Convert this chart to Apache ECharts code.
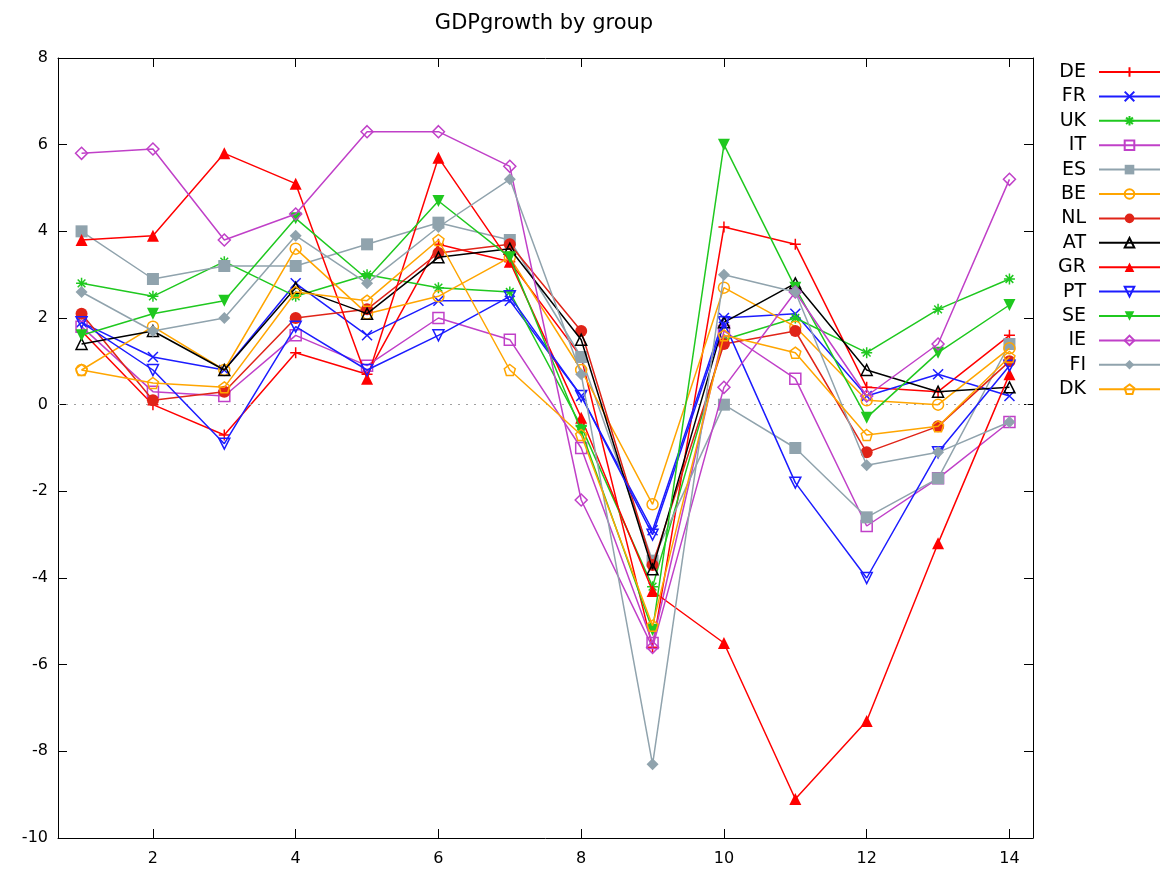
<!DOCTYPE html>
<html>
<head>
<meta charset="utf-8">
<title>GDPgrowth by group</title>
<script src="https://cdn.jsdelivr.net/npm/echarts@6/dist/echarts.min.js"></script>
<style>
  html, body { margin: 0; padding: 0; background: #fff; }
  #chart { width: 1161px; height: 874px; }
</style>
</head>
<body>
<div id="chart"></div>
<script>
// Period index along the x axis
const periods = [1, 2, 3, 4, 5, 6, 7, 8, 9, 10, 11, 12, 13, 14];
const xTickValues = [2, 4, 6, 8, 10, 12, 14];

// GDP growth (%) per country
const DE = [1.7, 0.0, -0.7, 1.2, 0.7, 3.7, 3.3, 1.1, -5.6, 4.1, 3.7, 0.4, 0.3, 1.6];
const FR = [1.9, 1.1, 0.8, 2.8, 1.6, 2.4, 2.4, 0.2, -2.9, 2.0, 2.1, 0.2, 0.7, 0.2];
const UK = [2.8, 2.5, 3.3, 2.5, 3.0, 2.7, 2.6, -0.5, -4.2, 1.5, 2.0, 1.2, 2.2, 2.9];
const IT = [1.8, 0.3, 0.2, 1.6, 0.9, 2.0, 1.5, -1.0, -5.5, 1.7, 0.6, -2.8, -1.7, -0.4];
const ES = [4.0, 2.9, 3.2, 3.2, 3.7, 4.2, 3.8, 1.1, -3.6, 0.0, -1.0, -2.6, -1.7, 1.4];
const BE = [0.8, 1.8, 0.8, 3.6, 2.1, 2.5, 3.4, 0.8, -2.3, 2.7, 1.8, 0.1, 0.0, 1.3];
const NL = [2.1, 0.1, 0.3, 2.0, 2.2, 3.5, 3.7, 1.7, -3.7, 1.4, 1.7, -1.1, -0.5, 1.0];
const AT = [1.4, 1.7, 0.8, 2.7, 2.1, 3.4, 3.6, 1.5, -3.8, 1.9, 2.8, 0.8, 0.3, 0.4];
const GR = [3.8, 3.9, 5.8, 5.1, 0.6, 5.7, 3.3, -0.3, -4.3, -5.5, -9.1, -7.3, -3.2, 0.7];
const PT = [1.9, 0.8, -0.9, 1.8, 0.8, 1.6, 2.5, 0.2, -3.0, 1.9, -1.8, -4.0, -1.1, 0.9];
const SE = [1.6, 2.1, 2.4, 4.3, 2.9, 4.7, 3.4, -0.6, -5.2, 6.0, 2.7, -0.3, 1.2, 2.3];
const IE = [5.8, 5.9, 3.8, 4.4, 6.3, 6.3, 5.5, -2.2, -5.6, 0.4, 2.6, 0.2, 1.4, 5.2];
const FI = [2.6, 1.7, 2.0, 3.9, 2.8, 4.1, 5.2, 0.7, -8.3, 3.0, 2.6, -1.4, -1.1, -0.4];
const DK = [0.8, 0.5, 0.4, 2.6, 2.4, 3.8, 0.8, -0.7, -5.1, 1.6, 1.2, -0.7, -0.5, 1.1];

// Marker shapes
const SYM = {
  plus: 'path://M5,0 L5,10 M0,5 L10,5',
  cross: 'path://M0,0 L10,10 M10,0 L0,10',
  star: 'path://M5,0 L5,10 M0,5 L10,5 M1.5,1.5 L8.5,8.5 M8.5,1.5 L1.5,8.5',
  square: 'rect',
  circle: 'circle',
  triUp: 'triangle',
  triDown: 'path://M0,0 L10,0 L5,8.66 Z',
  diamond: 'diamond',
  pentagon: 'path://M5,0 L10,3.8 L8.1,10 L1.9,10 L0,3.8 Z'
};

const seriesDefs = [
  { name: 'DE', data: DE, color: '#ff0000', symbol: SYM.plus, filled: false, size: 11 },
  { name: 'FR', data: FR, color: '#1c1cff', symbol: SYM.cross, filled: false, size: 10 },
  { name: 'UK', data: UK, color: '#1fc81f', symbol: SYM.star, filled: false, size: 11 },
  { name: 'IT', data: IT, color: '#c040c8', symbol: SYM.square, filled: false, size: 11 },
  { name: 'ES', data: ES, color: '#90a3ad', symbol: SYM.square, filled: true, size: 12 },
  { name: 'BE', data: BE, color: '#ffa500', symbol: SYM.circle, filled: false, size: 11 },
  { name: 'NL', data: NL, color: '#e02418', symbol: SYM.circle, filled: true, size: 12 },
  { name: 'AT', data: AT, color: '#000000', symbol: SYM.triUp, filled: false, size: 11 },
  { name: 'GR', data: GR, color: '#ff0000', symbol: SYM.triUp, filled: true, size: 12 },
  { name: 'PT', data: PT, color: '#1c1cff', symbol: SYM.triDown, filled: false, size: 11 },
  { name: 'SE', data: SE, color: '#1fc81f', symbol: SYM.triDown, filled: true, size: 12 },
  { name: 'IE', data: IE, color: '#c040c8', symbol: SYM.diamond, filled: false, size: 12 },
  { name: 'FI', data: FI, color: '#90a3ad', symbol: SYM.diamond, filled: true, size: 12 },
  { name: 'DK', data: DK, color: '#ffa500', symbol: SYM.pentagon, filled: false, size: 11 }
];

const FONT = 'DejaVu Sans';

const series = seriesDefs.map((d, idx) => {
  const s = {
    name: d.name,
    type: 'line',
    data: periods.map((p, i) => [p, d.data[i]]),
    symbol: d.symbol,
    symbolSize: d.size,
    showSymbol: true,
    showAllSymbol: true,
    lineStyle: { color: d.color, width: 1.5 },
    itemStyle: d.filled
      ? { color: d.color, borderColor: d.color, borderWidth: 0 }
      : { color: 'rgba(0,0,0,0)', borderColor: d.color, borderWidth: 1.5 },
    emphasis: { disabled: true },
    z: 3 + idx
  };
  if (idx === 0) {
    // dotted zero line
    s.markLine = {
      silent: true,
      symbol: ['none', 'none'],
      label: { show: false },
      lineStyle: { color: '#a0a0a0', type: [2, 6], width: 1 },
      data: [{ yAxis: 0 }]
    };
  }
  return s;
});

const tickCommon = { show: true, inside: true, length: 9, lineStyle: { color: '#000', width: 1 } };

const option = {
  animation: false,
  backgroundColor: '#ffffff',
  title: {
    text: 'GDPgrowth by group',
    left: 539,
    textAlign: 'center',
    top: 8,
    textStyle: { fontFamily: FONT, fontSize: 21, fontWeight: 'normal', color: '#000' }
  },
  legend: {
    orient: 'vertical',
    right: 0,
    top: 62.5,
    padding: 0,
    align: 'right',
    itemWidth: 61,
    itemHeight: 12,
    itemGap: 5.4,
    textStyle: { fontFamily: FONT, fontSize: 19, color: '#000', padding: [0, 8, 0, 0] },
    data: seriesDefs.map(d => d.name)
  },
  grid: { left: 58, right: 128, top: 58, bottom: 36 },
  xAxis: [
    {
      type: 'value',
      min: 0.67,
      max: 14.33,
      position: 'bottom',
      axisLine: { show: true, onZero: false, lineStyle: { color: '#000', width: 1 } },
      axisTick: Object.assign({ customValues: xTickValues }, tickCommon),
      axisLabel: { customValues: xTickValues, margin: 13, fontFamily: FONT, fontSize: 16, color: '#000' },
      splitLine: { show: false }
    },
    {
      type: 'value',
      min: 0.67,
      max: 14.33,
      position: 'top',
      axisLine: { show: true, onZero: false, lineStyle: { color: '#000', width: 1 } },
      axisTick: Object.assign({ customValues: xTickValues }, tickCommon),
      axisLabel: { show: false },
      splitLine: { show: false }
    }
  ],
  yAxis: [
    {
      type: 'value',
      min: -10,
      max: 8,
      interval: 2,
      position: 'left',
      axisLine: { show: true, onZero: false, lineStyle: { color: '#000', width: 1 } },
      axisTick: tickCommon,
      axisLabel: { margin: 10, fontFamily: FONT, fontSize: 16, color: '#000' },
      splitLine: { show: false }
    },
    {
      type: 'value',
      min: -10,
      max: 8,
      interval: 2,
      position: 'right',
      axisLine: { show: true, onZero: false, lineStyle: { color: '#000', width: 1 } },
      axisTick: tickCommon,
      axisLabel: { show: false },
      splitLine: { show: false }
    }
  ],
  series: series
};

const chart = echarts.init(document.getElementById('chart'), null, { renderer: 'canvas' });
chart.setOption(option);
</script>
</body>
</html>
